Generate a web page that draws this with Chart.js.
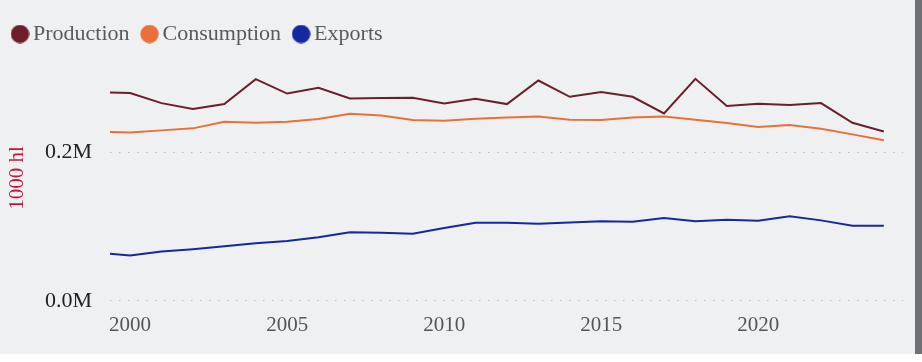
<!DOCTYPE html>
<html>
<head>
<meta charset="utf-8">
<script src="https://cdn.jsdelivr.net/npm/chart.js@4"></script>
<style>
  html, body { margin: 0; padding: 0; background: #ffffff; }
  #wrap { position: relative; width: 922px; height: 362px; background: #ffffff; }
  #panel { position: absolute; left: 0; top: 0; width: 915px; height: 354px; background: #eff0f2; }
  #strip { position: absolute; left: 915px; top: 0; width: 7px; height: 354px; background: #6b7177; }
  canvas { display: block; }
</style>
</head>
<body>
<div id="wrap">
  <div id="panel"><canvas id="c" width="915" height="354"></canvas></div>
  <div id="strip"></div>
</div>
<script>
const years = [1999, 2000, 2001, 2002, 2003, 2004, 2005, 2006, 2007, 2008, 2009, 2010, 2011,
               2012, 2013, 2014, 2015, 2016, 2017, 2018, 2019, 2020, 2021, 2022, 2023, 2024];
const production = [281000, 279700, 266200, 258200, 264900, 298500, 279100, 286800, 272400, 273000, 273400, 265700, 272000,
                    264900, 296600, 274700, 281000, 274700, 252300, 298900, 262200, 265300, 263600, 266200, 239800, 228100];
const consumption = [227700, 226800, 229500, 232200, 241200, 239800, 241200, 244800, 251900, 249600, 243400, 242500, 245200,
                     246900, 248300, 243800, 243400, 246900, 248300, 243800, 239400, 234000, 236700, 231800, 224100, 216100];
const exportsData = [64700, 60900, 66300, 69400, 73400, 77400, 80500, 85500, 92200, 91500, 90200, 98000, 105200,
                     105200, 103900, 105600, 107000, 106600, 111400, 107000, 109200, 107900, 113700, 108300, 101200, 101200];
const seriesNames = ['Production', 'Consumption', 'Exports'];
const seriesColors = ['#6c1f2a', '#ec6f38', '#1428a0'];
const yTickValues = [0, 200000];
const xTickValues = [2000, 2005, 2010, 2015, 2020];
const yTitle = '1000 hl';

function pts(vals) { return years.map((y, i) => ({ x: y, y: vals[i] })); }

function dotImage(color) {
  const c = document.createElement('canvas');
  c.width = 19; c.height = 19;
  const g = c.getContext('2d');
  g.fillStyle = color;
  g.beginPath(); g.arc(9.5, 9.5, 9.2, 0, Math.PI * 2); g.fill();
  return c;
}

const serif = "'Liberation Serif', 'Times New Roman', serif";
const allSeries = [production, consumption, exportsData];

new Chart(document.getElementById('c'), {
  type: 'line',
  data: {
    datasets: allSeries.map((vals, i) => ({
      label: seriesNames[i],
      data: pts(vals),
      borderColor: seriesColors[i],
      backgroundColor: seriesColors[i],
      borderWidth: 2,
      pointRadius: 0,
      pointHoverRadius: 0,
      tension: 0,
      clip: 0,
      pointStyle: dotImage(seriesColors[i])
    }))
  },
  options: {
    responsive: false,
    animation: false,
    layout: { padding: { left: 0, right: 12, top: 5, bottom: 4 } },
    plugins: {
      tooltip: { enabled: false },
      legend: {
        position: 'top',
        align: 'start',
        labels: {
          usePointStyle: true,
          boxWidth: 4,
          boxHeight: 4,
          padding: 18,
          color: '#5a5a5a',
          font: { family: serif, size: 22 }
        }
      }
    },
    scales: {
      x: {
        type: 'linear',
        min: 1999.36,
        max: 2024.61,
        afterBuildTicks: s => { s.ticks = xTickValues.map(v => ({ value: v })); },
        border: { display: false },
        grid: { display: false, drawTicks: false },
        ticks: {
          padding: 12,
          color: '#555555',
          font: { family: serif, size: 21 },
          callback: v => String(v)
        }
      },
      y: {
        min: 0,
        max: 331000,
        afterFit: s => { s.width = 110; },
        afterBuildTicks: s => { s.ticks = yTickValues.map(v => ({ value: v })); },
        border: { display: false, dash: [1.5, 7.5] },
        grid: { color: '#b9bbbf', lineWidth: 1, drawTicks: false },
        ticks: {
          padding: 18,
          color: '#222222',
          font: { family: serif, size: 22 },
          callback: v => (v / 1e6).toFixed(1) + 'M'
        },
        title: {
          display: true,
          text: yTitle,
          color: '#c8143c',
          padding: { top: 5, bottom: 0 },
          font: { family: serif, size: 21 }
        }
      }
    }
  }
});
</script>
</body>
</html>
